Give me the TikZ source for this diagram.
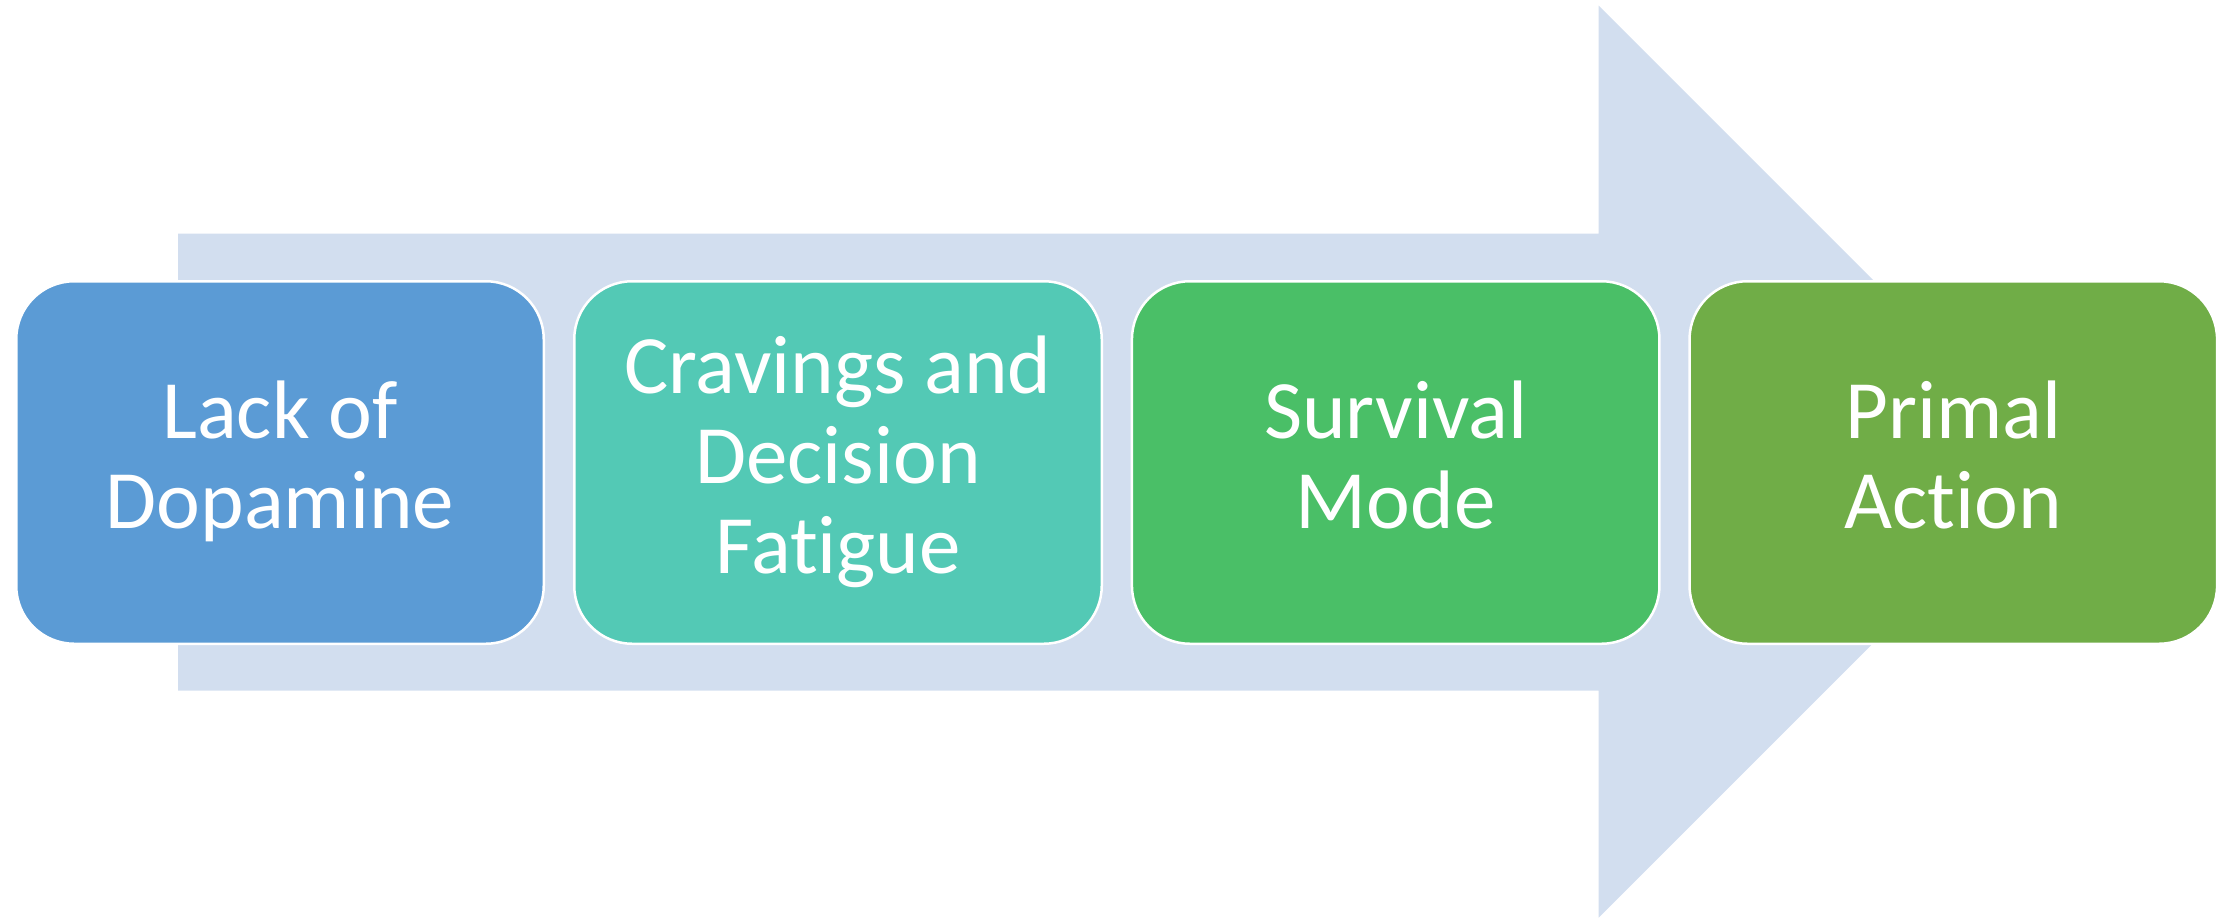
\documentclass[tikz,border=0pt]{standalone}
\usepackage{fontspec}
\setmainfont{Carlito}[Ligatures={NoCommon,NoContextual}]
\newcommand\lnstrut{\rule[-16pt]{0pt}{73pt}}
\definecolor{bandc}{HTML}{D2DEEF}
\definecolor{cA}{HTML}{5B9BD5}
\definecolor{cB}{HTML}{53C9B5}
\definecolor{cC}{HTML}{4ABF67}
\definecolor{cD}{HTML}{70AD47}
\tikzset{
  stagebox/.style={draw=white, line width=2.5pt, rounded corners=58pt,
    minimum width=527.5pt, minimum height=362.5pt, inner sep=0pt,
    align=center, text=white, font=\fontsize{83}{90}\selectfont},
}
\begin{document}
\begin{tikzpicture}[x=1pt,y=-1pt]
\useasboundingbox (0,0) rectangle (2236,919);
\fill[bandc] (178,233.5) -- (1598.7,233.5) -- (1598.7,5.7) -- (2054.7,461.7)
  -- (1598.7,917.7) -- (1598.7,690.7) -- (178,690.7) -- cycle;
\node[stagebox, fill=cA] (b1) at (280,462.5) {Lack of\lnstrut\\Dopamine\lnstrut};
\node[stagebox, fill=cB] (b2) at (838,462.5) {Cravings and\lnstrut\\Decision\lnstrut\\Fatigue\lnstrut};
\node[stagebox, fill=cC] (b3) at (1395.7,462.5) {Survival\lnstrut\\Mode\lnstrut};
\node[stagebox, fill=cD] (b4) at (1953.3,462.5) {Primal\lnstrut\\Action\lnstrut};
\end{tikzpicture}
\end{document}
